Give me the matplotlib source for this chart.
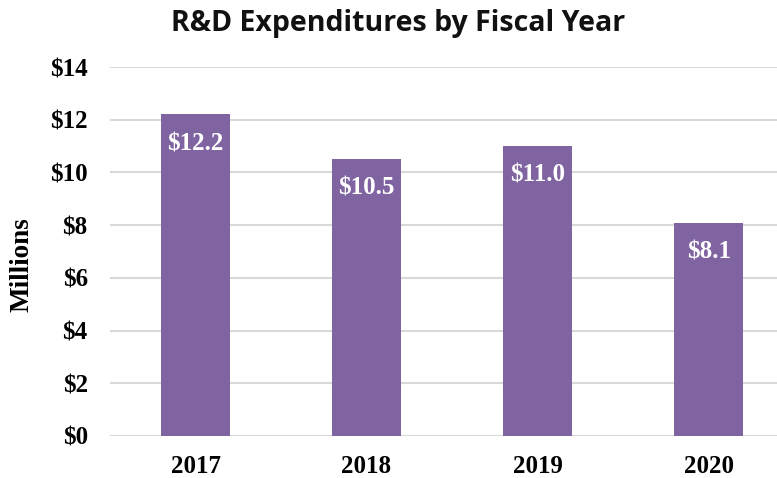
import numpy as np
import matplotlib.pyplot as plt

years = ['2017', '2018', '2019', '2020']
spend = [12.2, 10.5, 11.0, 8.1]
yticks = [0, 2, 4, 6, 8, 10, 12, 14]

bar_color = '#8064A2'
grid_color = '#d9d9d9'
serif = ['Liberation Serif', 'DejaVu Serif']

fig = plt.figure(figsize=(7.77, 4.78), dpi=100)
ax = fig.add_axes([110 / 777, 1 - 436 / 478, 1 - 110 / 777, (436 - 67) / 478])

x = np.arange(len(years))
bars = ax.bar(x, spend, width=0.4, color=bar_color, zorder=3)

# white value labels just inside the top of each bar
for b, v in zip(bars, spend):
    ax.annotate('${:.1f}'.format(v), xy=(b.get_x() + b.get_width() / 2, v),
                xytext=(0, -21), textcoords='offset points',
                ha='center', va='center', color='white',
                fontsize=18, fontweight='bold', family=serif)

ax.set_xlim(-0.5, 3.4)
ax.set_ylim(0, 14)
ax.set_yticks(yticks)
ax.set_yticklabels(['${}'.format(t) for t in yticks])
ax.set_xticks(x)
ax.set_xticklabels(years)
ax.grid(axis='y', color=grid_color, lw=1.5, zorder=0)
ax.set_axisbelow(True)
for s in ax.spines.values():
    s.set_visible(False)
ax.tick_params(length=0)
ax.tick_params(axis='y', pad=16)
ax.tick_params(axis='x', pad=14)
for lab in ax.get_xticklabels() + ax.get_yticklabels():
    lab.set_fontfamily(serif)
    lab.set_fontweight('bold')
    lab.set_fontsize(18)

fig.text(22 / 777, 1 - 265 / 478, 'Millions', rotation=90, ha='center', va='center',
         fontsize=19.5, fontweight='bold', family=serif)
fig.text(398 / 777, 1 - 23 / 478, 'R&D Expenditures by Fiscal Year', ha='center', va='center',
         fontsize=20.5, fontweight='bold', family=['Open Sans', 'DejaVu Sans'], color='#111111')

fig.savefig('out.png', dpi=100)
